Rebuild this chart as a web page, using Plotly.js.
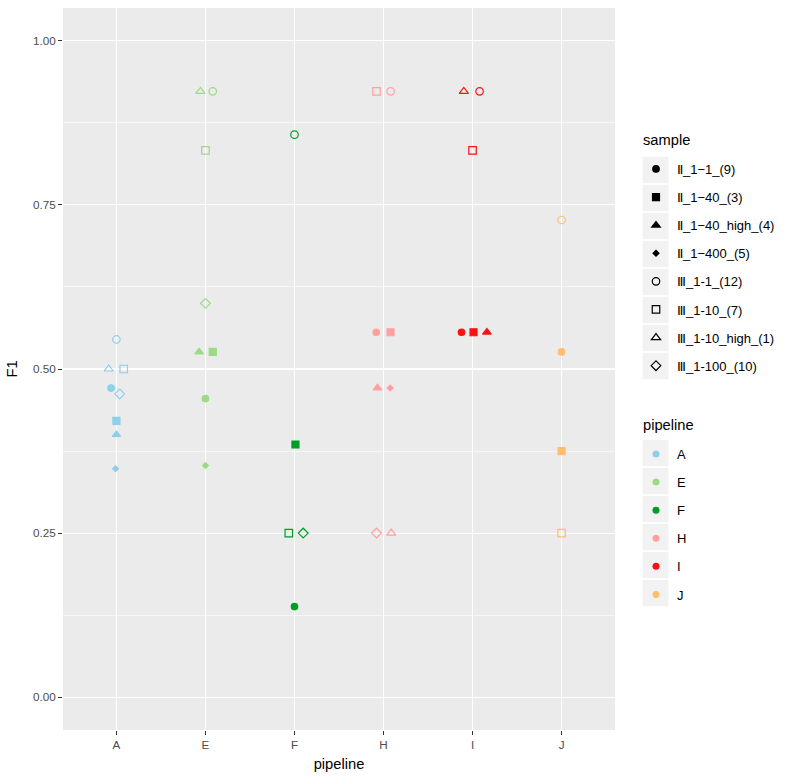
<!DOCTYPE html>
<html>
<head>
<meta charset="utf-8">
<script src="https://cdn.plot.ly/plotly-3.0.1.min.js"></script>
<style>html,body{margin:0;padding:0;background:#fff;}#chart{width:796px;height:780px;}</style>
</head>
<body>
<div id="chart"></div>
<script>
// ---- data ----
const pipelines = ["A", "E", "F", "H", "I", "J"];
const pipelineColors = ["#8ECFEA", "#9BDB86", "#009E25", "#FFA0A0", "#F81313", "#FDBF6F"];
const samples = ["II_1-1", "II_1-40", "II_1-40_high", "II_1-400", "III_1-1", "III_1-10", "III_1-10_high", "III_1-100"];
const sampleLabels = ["Ⅱ_1−1_(9)", "Ⅱ_1−40_(3)", "Ⅱ_1−40_high_(4)", "Ⅱ_1−400_(5)", "Ⅲ_1‐1_(12)", "Ⅲ_1‐10_(7)", "Ⅲ_1‐10_high_(1)", "Ⅲ_1‐100_(10)"];

// one entry per point
const ptPipeline = [
  "A","A","A","A","A","A","A","A",
  "E","E","E","E","E","E","E","E",
  "F","F","F","F","F",
  "H","H","H","H","H","H","H","H",
  "I","I","I","I","I","I",
  "J","J","J","J"
];
const ptSample = [
  "II_1-1","II_1-40","II_1-40_high","II_1-400","III_1-1","III_1-10","III_1-10_high","III_1-100",
  "II_1-1","II_1-40","II_1-40_high","II_1-400","III_1-1","III_1-10","III_1-10_high","III_1-100",
  "II_1-1","II_1-40","III_1-1","III_1-10","III_1-100",
  "II_1-1","II_1-40","II_1-40_high","II_1-400","III_1-1","III_1-10","III_1-10_high","III_1-100",
  "II_1-1","II_1-40","II_1-40_high","III_1-1","III_1-10","III_1-10_high",
  "II_1-1","II_1-40","III_1-1","III_1-10"
];
const ptF1 = [
  0.471, 0.421, 0.400, 0.348, 0.545, 0.500, 0.500, 0.462,
  0.455, 0.526, 0.526, 0.353, 0.923, 0.833, 0.923, 0.600,
  0.138, 0.385, 0.857, 0.250, 0.250,
  0.556, 0.556, 0.471, 0.471, 0.923, 0.923, 0.250, 0.250,
  0.556, 0.556, 0.556, 0.923, 0.833, 0.923,
  0.526, 0.375, 0.727, 0.250
];
// horizontal jitter (category units)
const ptJitter = [
  -0.060, 0.000, 0.000, -0.010, 0.000, 0.082, -0.087, 0.037,
  0.000, 0.082, -0.071, 0.000, 0.082, 0.000, -0.056, 0.000,
  0.000, 0.011, 0.000, -0.064, 0.098,
  -0.082, 0.079, -0.068, 0.075, 0.079, -0.079, 0.087, -0.079,
  -0.124, 0.011, 0.161, 0.079, 0.000, -0.098,
  0.000, 0.000, 0.000, 0.000
];
const yTicks = [0, 0.25, 0.5, 0.75, 1.0];
const yTickText = ["0.00", "0.25", "0.50", "0.75", "1.00"];

// ---- styling ----
const symbolMap = {
  "II_1-1": "circle", "II_1-40": "square", "II_1-40_high": "triangle-up", "II_1-400": "diamond",
  "III_1-1": "circle-open", "III_1-10": "square-open", "III_1-10_high": "triangle-up-open", "III_1-100": "diamond-open"
};
const sizeMap = {
  "II_1-1": 6.5, "II_1-40": 7, "II_1-40_high": 7.5, "II_1-400": 4.5,
  "III_1-1": 7.5, "III_1-10": 7.5, "III_1-10_high": 8, "III_1-100": 7.5
};

const traces = [];
pipelines.forEach((p, pi) => {
  const xs = [], ys = [], syms = [], sizes = [];
  ptPipeline.forEach((pp, i) => {
    if (pp !== p) return;
    xs.push(pi + ptJitter[i]);
    ys.push(ptF1[i]);
    syms.push(symbolMap[ptSample[i]]);
    sizes.push(sizeMap[ptSample[i]]);
  });
  traces.push({
    type: "scatter", mode: "markers", x: xs, y: ys, showlegend: false, hoverinfo: "x+y",
    marker: { color: pipelineColors[pi], opacity: 1, symbol: syms, size: sizes, line: { width: 1.2, color: pipelineColors[pi] } }
  });
});

// legend: sample shapes
samples.forEach((s, si) => {
  traces.push({
    type: "scatter", mode: "markers", x: [null], y: [null], name: sampleLabels[si],
    legend: "legend", legendgroup: "s" + si,
    marker: { color: "#000", opacity: 1, symbol: symbolMap[s], size: sizeMap[s], line: { width: 1.2, color: "#000" } }
  });
});
// legend: pipeline colours
pipelines.forEach((p, pi) => {
  traces.push({
    type: "scatter", mode: "markers", x: [null], y: [null], name: p,
    legend: "legend2", legendgroup: "p" + pi,
    marker: { color: pipelineColors[pi], opacity: 1, symbol: "circle", size: 7 }
  });
});

// geometry helpers (pixels -> paper) for legend decorations
const W = 796, H = 780, ML = 63, MR = 181, MT = 8, MB = 50;
const PW = W - ML - MR, PH = H - MT - MB;
const px2x = v => (v - ML) / PW;
const px2y = v => (H - MB - v) / PH;

const legendCommon = {
  xanchor: "left", yanchor: "top", bgcolor: "rgba(0,0,0,0)",
  font: { family: "Liberation Sans, Arial, sans-serif", size: 13, color: "#000" },
  tracegroupgap: 8.2, itemwidth: 32
};

// grey key backgrounds
const shapes = [];
const keyRows = [
  { top: 170, n: samples.length },
  { top: 453, n: pipelines.length }
];
keyRows.forEach(r => {
  for (let i = 0; i < r.n; i++) {
    const c = r.top + 28 * i;
    shapes.push({
      type: "rect", xref: "paper", yref: "paper", layer: "below",
      x0: px2x(642.5), x1: px2x(668.5), y0: px2y(c - 13.2), y1: px2y(c + 13.2),
      fillcolor: "#F2F2F2", line: { width: 0 }
    });
  }
});

const layout = {
  width: W, height: H,
  margin: { l: ML, r: MR, t: MT, b: MB },
  paper_bgcolor: "#FFFFFF", plot_bgcolor: "#EBEBEB",
  font: { family: "Liberation Sans, Arial, sans-serif", color: "#000" },
  xaxis: {
    range: [-0.6, 5.6], tickmode: "array", tickvals: pipelines.map((p, i) => i), ticktext: pipelines,
    showgrid: true, gridcolor: "#FFFFFF", gridwidth: 1.1, zeroline: false, showline: false,
    ticks: "outside", ticklen: 4, tickwidth: 1, tickcolor: "#333333",
    tickfont: { size: 11.7, color: "#4D4D4D" },
    title: { text: "pipeline", font: { size: 14.7, color: "#000" }, standoff: 8 }
  },
  yaxis: {
    range: [-0.05, 1.05], tickmode: "array", tickvals: yTicks, ticktext: yTickText,
    showgrid: true, gridcolor: "#FFFFFF", gridwidth: 1.1, zeroline: false, showline: false,
    ticks: "outside", ticklen: 4, tickwidth: 1, tickcolor: "#333333",
    tickfont: { size: 11.7, color: "#4D4D4D" },
    minor: { tickmode: "array", tickvals: [0.125, 0.375, 0.625, 0.875], showgrid: true, gridcolor: "#FFFFFF", gridwidth: 0.55, ticks: "" },
    title: { text: "F1", font: { size: 14.7, color: "#000" }, standoff: 11 }
  },
  showlegend: true,
  legend: Object.assign({}, legendCommon, { x: px2x(635), y: px2y(154) }),
  legend2: Object.assign({}, legendCommon, { x: px2x(635), y: px2y(439) }),
  annotations: [
    { text: "sample", xref: "paper", yref: "paper", x: px2x(641), y: px2y(140), xanchor: "left", yanchor: "middle", showarrow: false, font: { size: 14.7, color: "#000" } },
    { text: "pipeline", xref: "paper", yref: "paper", x: px2x(641), y: px2y(425), xanchor: "left", yanchor: "middle", showarrow: false, font: { size: 14.7, color: "#000" } }
  ],
  shapes: shapes
};

Plotly.newPlot("chart", traces, layout, { displayModeBar: false, staticPlot: true });
</script>
</body>
</html>
